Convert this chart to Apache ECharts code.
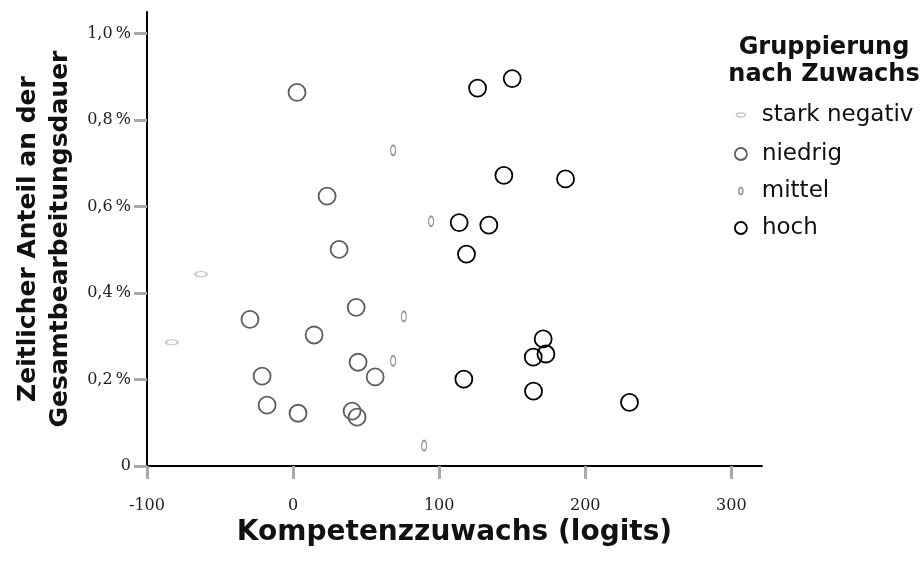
<!DOCTYPE html>
<html>
<head>
<meta charset="utf-8">
<script src="https://cdn.jsdelivr.net/npm/echarts@6/dist/echarts.min.js"></script>
<style>
html,body{margin:0;padding:0;background:#fff;}
#main{width:923px;height:567px;}
</style>
</head>
<body>
<div id="main"></div>
<script>
// Data (x: Kompetenzzuwachs in logits, y: Zeitanteil in %)
const starkNegX = [-63, -83];
const starkNegY = [0.444, 0.286];
const niedrigX = [2.7, 23.3, 31.5, 43.2, -29.5, 14.4, 44.5, 56.2, -21.2, -17.8, 3.4, 40.4, 43.8];
const niedrigY = [0.864, 0.624, 0.501, 0.367, 0.339, 0.303, 0.240, 0.206, 0.208, 0.141, 0.122, 0.127, 0.113];
const mittelX = [68.5, 94.5, 75.8, 68.5, 89.7];
const mittelY = [0.730, 0.566, 0.346, 0.243, 0.047];
const hochX = [126.3, 150, 144.3, 186.5, 113.7, 134, 118.7, 171.2, 173.1, 164.4, 116.9, 164.6, 230.3];
const hochY = [0.874, 0.896, 0.672, 0.664, 0.563, 0.557, 0.490, 0.294, 0.259, 0.252, 0.201, 0.173, 0.147];
const groupNames = ['stark negativ', 'niedrig', 'mittel', 'hoch'];
const xTicks = [-100, 0, 100, 200, 300];
const yTicks = [0, 0.2, 0.4, 0.6, 0.8, 1.0];

const pair = (xs, ys) => xs.map((x, i) => [x, ys[i]]);
const ELL = 'path://M0,10 A10,10 0 1,1 20,10 A10,10 0 1,1 0,10 Z';
const SANS = 'DejaVu Sans';
const SERIF = 'DejaVu Serif';

const chart = echarts.init(document.getElementById('main'), null, {renderer: 'canvas'});

const styles = [
  {color: '#c8c8c8', size: [12, 5], lw: 1.6, icon: [9, 4]},
  {color: '#5f5f5f', size: 17, lw: 1.8, icon: [12, 12]},
  {color: '#9a9a9a', size: [5, 10], lw: 1.6, icon: [4, 7]},
  {color: '#000000', size: 17, lw: 1.8, icon: [12, 12]}
];
const datas = [pair(starkNegX, starkNegY), pair(niedrigX, niedrigY), pair(mittelX, mittelY), pair(hochX, hochY)];

const series = groupNames.map((n, i) => ({
  name: n,
  type: 'scatter',
  data: datas[i],
  symbol: ELL,
  symbolSize: styles[i].size,
  itemStyle: {color: 'rgba(255,255,255,0)', borderColor: styles[i].color, borderWidth: styles[i].lw, opacity: 1},
  emphasis: {disabled: true},
  z: 3
}));

const legendRows = [115, 154, 191, 228];
const legends = groupNames.map((n, i) => ({
  data: [{name: n, icon: ELL, itemStyle: {color: 'rgba(255,255,255,0)', borderColor: styles[i].color, borderWidth: styles[i].lw}}],
  orient: 'vertical',
  left: 740 - styles[i].icon[0] / 2,
  top: legendRows[i] - 13,
  itemWidth: styles[i].icon[0],
  itemHeight: styles[i].icon[1],
  symbolKeepAspect: false,
  itemGap: 0,
  padding: 0,
  selectedMode: false,
  textStyle: {fontFamily: SANS, fontSize: 23, color: '#111', padding: [0, 0, 0, 16 - styles[i].icon[0] / 2], lineHeight: 26}
}));

chart.setOption({
  animation: false,
  backgroundColor: '#fff',
  title: {
    text: 'Gruppierung\nnach Zuwachs',
    left: 819, top: 29, textAlign: 'center',
    textStyle: {fontFamily: SANS, fontWeight: 'bold', fontSize: 24, lineHeight: 27, color: '#111'}
  },
  legend: legends,
  grid: {left: 147, right: 161, top: 12, bottom: 101, containLabel: false},
  xAxis: {
    type: 'value', min: -100, max: 321,
    name: 'Kompetenzzuwachs (logits)', nameLocation: 'middle', nameGap: 38,
    nameTextStyle: {fontFamily: SANS, fontWeight: 'bold', fontSize: 28, color: '#111'},
    axisLine: {show: true, onZero: false, lineStyle: {color: '#000', width: 2}},
    axisTick: {show: true, customValues: xTicks, length: 13, lineStyle: {color: '#aaa', width: 3}},
    axisLabel: {customValues: xTicks, margin: 32, fontFamily: SERIF, fontSize: 16, color: '#222'},
    splitLine: {show: false}
  },
  yAxis: {
    type: 'value', min: 0, max: 1.05,
    name: 'Zeitlicher Anteil an der\nGesamtbearbeitungsdauer', nameLocation: 'middle', nameGap: 68,
    nameTextStyle: {fontFamily: SANS, fontWeight: 'bold', fontSize: 25, lineHeight: 32, color: '#111'},
    axisLine: {show: true, onZero: false, lineStyle: {color: '#000', width: 2}},
    axisTick: {show: true, customValues: yTicks, length: 13, lineStyle: {color: '#aaa', width: 3}},
    axisLabel: {
      customValues: yTicks, margin: 16, fontFamily: SERIF, fontSize: 16, color: '#222',
      formatter: v => v === 0 ? '0' : v.toFixed(1).replace('.', ',') + '\u2009%'
    },
    splitLine: {show: false}
  },
  series: series
});
</script>
</body>
</html>
